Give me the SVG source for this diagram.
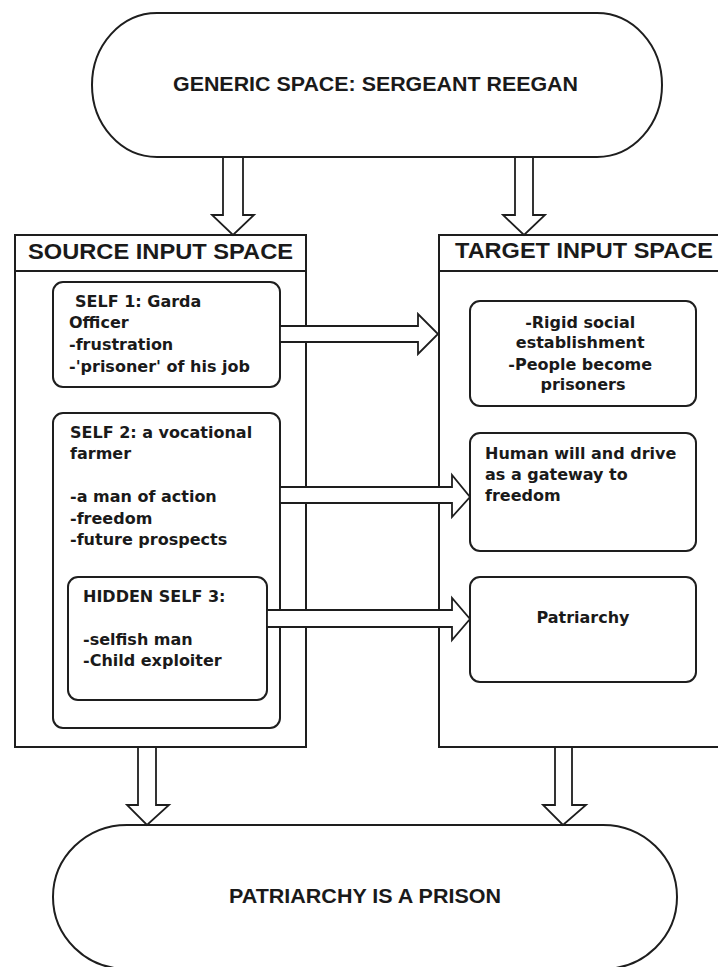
<svg xmlns="http://www.w3.org/2000/svg" width="718" height="967" viewBox="0 0 718 967">
  <style>
    .bg { fill: #ffffff; }
    .shape { fill: #ffffff; stroke: #1e1e1e; stroke-width: 2; }
    .line { fill: none; stroke: #1e1e1e; stroke-width: 2; }
    .arrow { fill: #ffffff; stroke: #1e1e1e; stroke-width: 1.8; stroke-linejoin: miter; }
    .head { font-family: "Liberation Sans", Arial, sans-serif; font-weight: bold; fill: #1a1a1a; }
    .body { font-family: "DejaVu Sans", "Liberation Sans", sans-serif; font-weight: bold; font-size: 16px; fill: #1a1a1a; }
    .mid { text-anchor: middle; }
  </style>

  <rect class="bg" x="0" y="0" width="718" height="967"/>

  <!-- generic space -->
  <g id="generic-space">
    <path class="shape" d="M157,13 H597 A65,72 0 0 1 597,157 H157 A65,72 0 0 1 157,13 Z"/>
    <text class="head" x="173" y="91" font-size="20.5" textLength="405" lengthAdjust="spacingAndGlyphs">GENERIC SPACE: SERGEANT REEGAN</text>
  </g>

  <!-- source input space -->
  <g id="source-space">
    <rect class="shape" x="15" y="235" width="291" height="512"/>
    <line class="line" x1="15" y1="271" x2="306" y2="271"/>
    <text class="head" x="28" y="259" font-size="22" textLength="265" lengthAdjust="spacingAndGlyphs">SOURCE INPUT SPACE</text>
  </g>

  <g id="self-1">
    <rect class="shape" x="53" y="282" width="227" height="105" rx="10"/>
    <text class="body">
      <tspan x="75" y="307">SELF 1: Garda</tspan>
      <tspan x="69" y="328">Officer</tspan>
      <tspan x="69" y="350">-frustration</tspan>
      <tspan x="69" y="372">-'prisoner' of his job</tspan>
    </text>
  </g>

  <g id="self-2">
    <rect class="shape" x="53" y="413" width="227" height="315" rx="10"/>
    <text class="body">
      <tspan x="70" y="438">SELF 2: a vocational</tspan>
      <tspan x="70" y="459">farmer</tspan>
      <tspan x="70" y="502">-a man of action</tspan>
      <tspan x="70" y="524">-freedom</tspan>
      <tspan x="70" y="545">-future prospects</tspan>
    </text>
  </g>

  <g id="hidden-self-3">
    <rect class="shape" x="68" y="577" width="199" height="123" rx="10"/>
    <text class="body">
      <tspan x="83" y="602">HIDDEN SELF 3:</tspan>
      <tspan x="83" y="645">-selfish man</tspan>
      <tspan x="83" y="666">-Child exploiter</tspan>
    </text>
  </g>

  <!-- target input space -->
  <g id="target-space">
    <rect class="shape" x="439" y="235" width="291" height="512"/>
    <line class="line" x1="439" y1="271" x2="730" y2="271"/>
    <text class="head" x="455" y="258" font-size="22" textLength="258" lengthAdjust="spacingAndGlyphs">TARGET INPUT SPACE</text>
  </g>

  <g id="rigid-establishment">
    <rect class="shape" x="470" y="301" width="226" height="105" rx="10"/>
    <text class="body mid">
      <tspan x="583" y="328">-Rigid social</tspan>
      <tspan x="583" y="348">establishment</tspan>
      <tspan x="583" y="370">-People become</tspan>
      <tspan x="583" y="390">prisoners</tspan>
    </text>
  </g>

  <g id="human-will">
    <rect class="shape" x="470" y="433" width="226" height="118" rx="10"/>
    <text class="body">
      <tspan x="485" y="459">Human will and drive</tspan>
      <tspan x="485" y="480">as a gateway to</tspan>
      <tspan x="485" y="501">freedom</tspan>
    </text>
  </g>

  <g id="patriarchy">
    <rect class="shape" x="470" y="577" width="226" height="105" rx="10"/>
    <text class="body mid" x="583" y="623">Patriarchy</text>
  </g>

  <!-- blended space -->
  <g id="blend">
    <path class="shape" d="M127,825 H603 A74,72 0 0 1 603,969 H127 A74,72 0 0 1 127,825 Z"/>
    <text class="head mid" x="365" y="903" font-size="20.5" textLength="272" lengthAdjust="spacingAndGlyphs">PATRIARCHY IS A PRISON</text>
  </g>

  <!-- block arrows, drawn over the frames they cross -->
  <g id="connectors">
    <polygon class="arrow" points="223,157 243,157 243,215 254,215 233,235 212,215 223,215"/>
    <polygon class="arrow" points="515,157 533,157 533,215 545,215 524,235 503,215 515,215"/>
    <polygon class="arrow" points="280,326 418,326 418,314 438,334 418,354 418,342 280,342"/>
    <polygon class="arrow" points="280,487 452,487 452,475 470,497 452,517 452,503 280,503"/>
    <polygon class="arrow" points="267,610 452,610 452,598 470,619 452,640 452,627 267,627"/>
    <polygon class="arrow" points="138,747 156,747 156,805 169,805 147,825 127,805 138,805"/>
    <polygon class="arrow" points="555,747 572,747 572,805 586,805 563,825 543,805 555,805"/>
  </g>
</svg>
